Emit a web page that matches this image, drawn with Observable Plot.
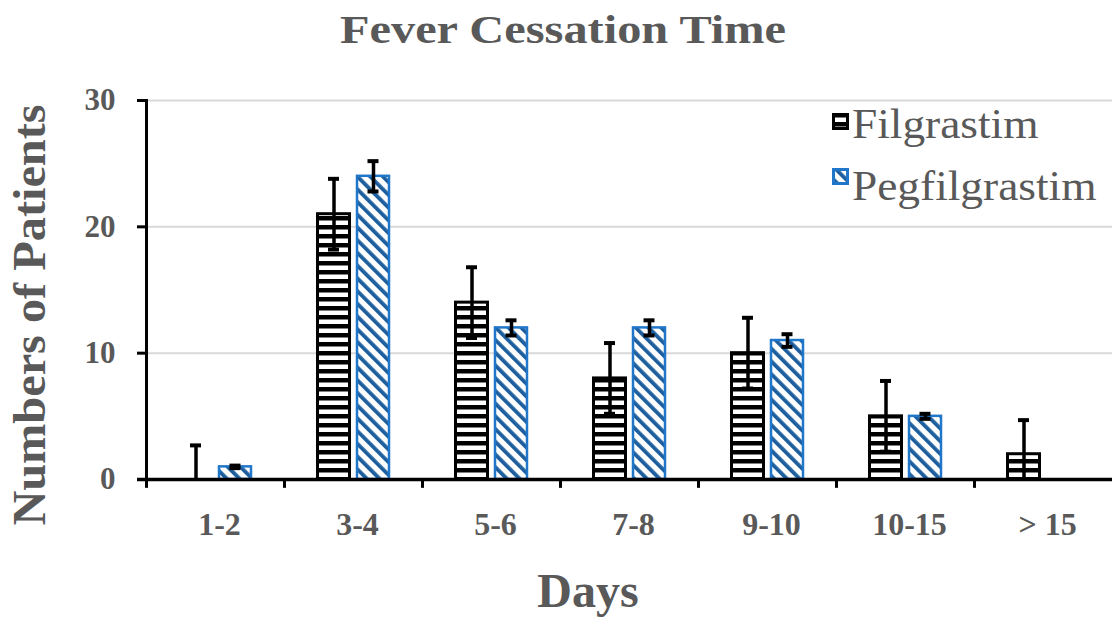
<!DOCTYPE html>
<html><head><meta charset="utf-8">
<script src="https://cdn.jsdelivr.net/npm/d3@7"></script>
<script src="https://cdn.jsdelivr.net/npm/@observablehq/plot@0.6"></script>
<style>
body{margin:0;background:#fff;}
#wrap{position:relative;width:1112px;height:619px;overflow:hidden;font-family:"Liberation Serif","Times New Roman",serif;}
#wrap svg.plot{position:absolute;left:0;top:0;}
.t{position:absolute;white-space:nowrap;color:#595959;line-height:1;}
</style></head><body><div id="wrap"></div>
<script>
const categories = ["1-2", "3-4", "5-6", "7-8", "9-10", "10-15", "> 15"];
const seriesNames = ["Filgrastim", "Pegfilgrastim"];
const filgrastim = [0, 21, 14, 8, 10, 5, 2];
const filgrastimSD = [2.7, 2.8, 2.8, 2.8, 2.8, 2.8, 2.7];
const pegfilgrastim = [1, 24, 12, 12, 11, 5, 0];
const pegfilgrastimSD = [0.1, 1.2, 0.6, 0.6, 0.5, 0.2, 0];
const yTicks = [0, 10, 20, 30];
const titleText = "Fever Cessation Time";
const xLabel = "Days";
const yLabel = "Numbers of Patients";

const F = categories.map((c, i) => ({cat: c, v: filgrastim[i], sd: filgrastimSD[i]}));
const P = categories.map((c, i) => ({cat: c, v: pegfilgrastim[i], sd: pegfilgrastimSD[i]}));
const Perr = P.filter(d => d.sd > 0);

const BLUE = "#2077c9", BLUE_D = "#1c5e9e", GREY = "#595959";
const FONT = "Liberation Serif, Times New Roman, serif";

const defs = () => {
  const d = d3.create("svg:defs");
  const h = d.append("pattern").attr("id", "hstripe").attr("patternUnits", "userSpaceOnUse")
    .attr("width", 10).attr("height", 9);
  h.append("rect").attr("width", 10).attr("height", 9).attr("fill", "white");
  h.append("rect").attr("width", 10).attr("height", 4.5).attr("fill", "black");
  const g = d.append("pattern").attr("id", "dstripe").attr("patternUnits", "userSpaceOnUse")
    .attr("width", 9).attr("height", 9).attr("patternTransform", "rotate(-45)");
  g.append("rect").attr("width", 9).attr("height", 9).attr("fill", "white");
  g.append("rect").attr("width", 3.8).attr("height", 9).attr("fill", BLUE_D);
  return d.node();
};

const chart = Plot.plot({
  width: 1112, height: 619,
  marginLeft: 146, marginRight: 0, marginTop: 100, marginBottom: 140,
  style: {fontFamily: FONT, background: "transparent", overflow: "visible"},
  x: {domain: categories, paddingInner: 0.464, paddingOuter: 0.232, axis: null},
  y: {domain: [0, 30], axis: null},
  marks: [
    defs,
    Plot.gridY([10, 20, 30], {stroke: "#d9d9d9", strokeOpacity: 1, strokeWidth: 2}),
    Plot.barY(F, {x: "cat", y: "v", fill: "url(#hstripe)", stroke: "black", strokeWidth: 3, insetLeft: 1.5, insetRight: 40.5}),
    Plot.barY(P, {x: "cat", y: "v", fill: "url(#dstripe)", stroke: BLUE, strokeWidth: 2.5, insetLeft: 41, insetRight: 1}),
    Plot.ruleX(F, {x: "cat", y1: d => Math.max(0, d.v - d.sd), y2: d => d.v + d.sd, dx: -19.5, stroke: "black", strokeWidth: 3.5}),
    Plot.tickY(F, {x: "cat", y: d => d.v + d.sd, insetLeft: 12, insetRight: 51, stroke: "black", strokeWidth: 4}),
    Plot.tickY(F.filter(d => d.v - d.sd >= 0), {x: "cat", y: d => d.v - d.sd, insetLeft: 12, insetRight: 51, stroke: "black", strokeWidth: 4}),
    Plot.ruleX(Perr, {x: "cat", y1: d => d.v - d.sd, y2: d => d.v + d.sd, dx: 20, stroke: "black", strokeWidth: 3.5}),
    Plot.tickY(Perr, {x: "cat", y: d => d.v + d.sd, insetLeft: 51.5, insetRight: 11.5, stroke: "black", strokeWidth: 4}),
    Plot.tickY(Perr, {x: "cat", y: d => d.v - d.sd, insetLeft: 51.5, insetRight: 11.5, stroke: "black", strokeWidth: 4}),
    Plot.ruleX(categories, {x: d => d, y1: 0, y2: -0.7, dx: -69, stroke: "black", strokeWidth: 3}),
    Plot.ruleY([0], {stroke: "black", strokeWidth: 3.5, insetLeft: -9}),
    Plot.frame({anchor: "left", stroke: "black", strokeWidth: 3}),
    Plot.axisY(yTicks, {tickSize: 9, tickPadding: 22, fontSize: 31, fontWeight: "bold", color: GREY, stroke: "black", strokeWidth: 3, label: null, fontFamily: FONT}),
    Plot.axisX({tickSize: 0, tickPadding: 33, fontSize: 32, fontWeight: "bold", color: GREY, label: null, dx: 4, fontFamily: FONT})
  ]
});
chart.classList.add("plot");
const wrap = document.getElementById("wrap");
wrap.appendChild(chart);

function addText(txt, {x, baseline, size, weight = "normal", anchor = "left", sx = 1}) {
  const el = document.createElement("div");
  el.className = "t";
  el.textContent = txt;
  el.style.fontSize = size + "px";
  el.style.fontWeight = weight;
  el.style.top = (baseline - 0.8375 * size) + "px";
  el.style.left = x + "px";
  if (anchor === "middle") { el.style.transform = `translateX(-50%) scaleX(${sx})`; }
  else { el.style.transformOrigin = "left center"; el.style.transform = `scaleX(${sx})`; }
  wrap.appendChild(el);
  return el;
}
addText(titleText, {x: 563, baseline: 43, size: 41, weight: "bold", anchor: "middle", sx: 1.18});
addText(xLabel, {x: 588, baseline: 607, size: 48, weight: "bold", anchor: "middle"});
// rotated y label
const yl = document.createElement("div");
yl.className = "t";
yl.textContent = yLabel;
yl.style.fontSize = "46px";
yl.style.fontWeight = "bold";
yl.style.left = "29.5px";
yl.style.top = "315px";
yl.style.transform = "translate(-50%,-50%) rotate(-90deg) scaleX(1.05)";
wrap.appendChild(yl);

// legend
const legendItems = [
  {name: seriesNames[0], fill: "url(#hstripe)", stroke: "black", top: 113, baseline: 138},
  {name: seriesNames[1], fill: "url(#dstripe)", stroke: BLUE, top: 168, baseline: 200}
];
legendItems.forEach(it => {
  const s = d3.create("svg").attr("width", 17).attr("height", 17)
    .style("position", "absolute").style("left", "832px").style("top", it.top + "px");
  s.append("rect").attr("x", 1.5).attr("y", 1.5).attr("width", 14).attr("height", 14)
    .attr("fill", it.fill).attr("stroke", it.stroke).attr("stroke-width", 3);
  wrap.appendChild(s.node());
  addText(it.name, {x: 852, baseline: it.baseline, size: 42, sx: 1.08});
});
</script></body></html>
